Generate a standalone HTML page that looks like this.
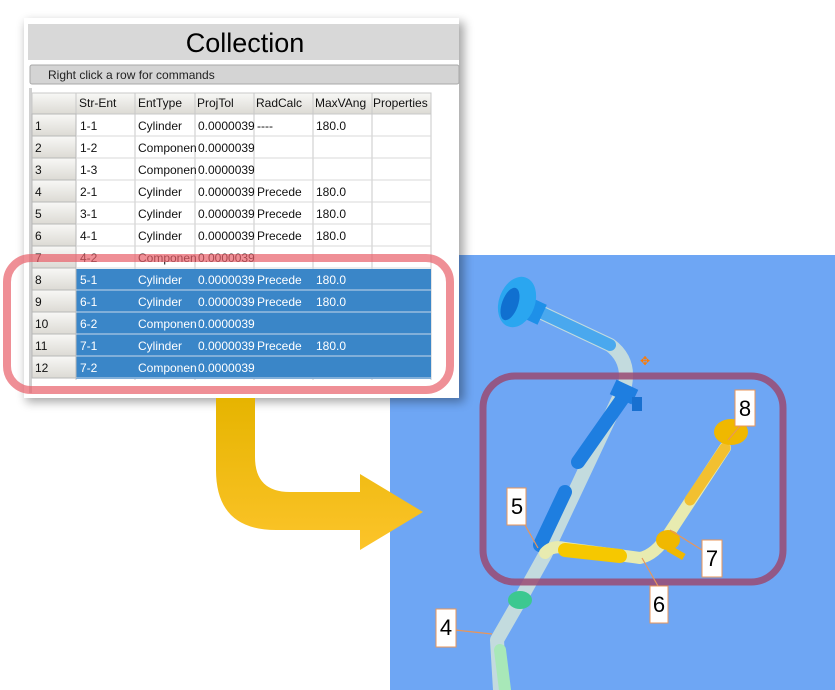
<!DOCTYPE html>
<html><head><meta charset="utf-8"><style>
html,body{margin:0;padding:0;background:#fff;width:835px;height:690px;overflow:hidden}
svg{display:block}
text{font-family:"Liberation Sans",sans-serif}
</style></head><body>
<svg width="835" height="690" viewBox="0 0 835 690" xmlns="http://www.w3.org/2000/svg">
<defs>
<filter id="sh" x="-10%" y="-10%" width="120%" height="120%"><feGaussianBlur stdDeviation="5"/></filter>
<linearGradient id="ag" x1="0" y1="0" x2="0" y2="1"><stop offset="0" stop-color="#e6b400"/><stop offset="1" stop-color="#fcc42a"/></linearGradient>
<linearGradient id="hd" x1="0" y1="0" x2="0" y2="1"><stop offset="0" stop-color="#f8f8f6"/><stop offset="1" stop-color="#dcdad4"/></linearGradient>
</defs>
<rect x="390" y="255" width="445" height="435" fill="#6ea6f4"/>
<rect x="26" y="22" width="438" height="380" fill="#000" opacity="0.35" filter="url(#sh)"/>
<rect x="24" y="18" width="435" height="380" fill="#fff"/>
<rect x="28" y="24" width="431" height="36" fill="#d8d8d8"/>
<text x="245" y="52" font-size="27" text-anchor="middle" fill="#000">Collection</text>
<rect x="30" y="65" width="429" height="19" rx="2" fill="#d4d4d4" stroke="#a8a8a8"/>
<text x="48" y="79" font-size="12" fill="#222">Right click a row for commands</text>
<rect x="29" y="88" width="3" height="305" fill="#d0d0d0"/>
<g font-size="12" fill="#111">
<rect x="32" y="93" width="399" height="21" fill="url(#hd)" stroke="#c8c8c8"/>
<g stroke="#c8c8c8"><line x1="76" y1="93" x2="76" y2="380"/><line x1="135" y1="93" x2="135" y2="380"/><line x1="195" y1="93" x2="195" y2="380"/><line x1="254" y1="93" x2="254" y2="380"/><line x1="313" y1="93" x2="313" y2="380"/><line x1="372" y1="93" x2="372" y2="380"/><line x1="431" y1="93" x2="431" y2="380"/></g>
<text x="79" y="107">Str-Ent</text><text x="138" y="107">EntType</text><text x="197" y="107">ProjTol</text><text x="256" y="107">RadCalc</text><text x="315" y="107">MaxVAng</text><text x="373" y="107">Properties</text>
</g>
<rect x="76" y="269" width="355" height="110" fill="#3a86c8"/>
<g font-size="12">
<g fill="url(#hd)" stroke="#b8b8b8">
<rect x="32" y="114" width="44" height="22"/><rect x="32" y="136" width="44" height="22"/><rect x="32" y="158" width="44" height="22"/><rect x="32" y="180" width="44" height="22"/><rect x="32" y="202" width="44" height="22"/><rect x="32" y="224" width="44" height="22"/><rect x="32" y="246" width="44" height="22"/><rect x="32" y="268" width="44" height="22"/><rect x="32" y="290" width="44" height="22"/><rect x="32" y="312" width="44" height="22"/><rect x="32" y="334" width="44" height="22"/><rect x="32" y="356" width="44" height="22"/>
</g>
<g stroke="#d8d8d8"><line x1="76" y1="136" x2="431" y2="136"/><line x1="76" y1="158" x2="431" y2="158"/><line x1="76" y1="180" x2="431" y2="180"/><line x1="76" y1="202" x2="431" y2="202"/><line x1="76" y1="224" x2="431" y2="224"/><line x1="76" y1="246" x2="431" y2="246"/><line x1="76" y1="268" x2="431" y2="268"/></g>
<g stroke="#c8d8ea"><line x1="76" y1="290" x2="431" y2="290"/><line x1="76" y1="312" x2="431" y2="312"/><line x1="76" y1="334" x2="431" y2="334"/><line x1="76" y1="356" x2="431" y2="356"/><line x1="76" y1="378" x2="431" y2="378"/></g>
<g fill="#111">
<text x="35" y="130">1</text><text x="80" y="130">1-1</text><text x="138" y="130">Cylinder</text><text x="198" y="130">0.0000039</text><text x="257" y="130">----</text><text x="316" y="130">180.0</text>
<text x="35" y="152">2</text><text x="80" y="152">1-2</text><text x="138" y="152">Componen</text><text x="198" y="152">0.0000039</text>
<text x="35" y="174">3</text><text x="80" y="174">1-3</text><text x="138" y="174">Componen</text><text x="198" y="174">0.0000039</text>
<text x="35" y="196">4</text><text x="80" y="196">2-1</text><text x="138" y="196">Cylinder</text><text x="198" y="196">0.0000039</text><text x="257" y="196">Precede</text><text x="316" y="196">180.0</text>
<text x="35" y="218">5</text><text x="80" y="218">3-1</text><text x="138" y="218">Cylinder</text><text x="198" y="218">0.0000039</text><text x="257" y="218">Precede</text><text x="316" y="218">180.0</text>
<text x="35" y="240">6</text><text x="80" y="240">4-1</text><text x="138" y="240">Cylinder</text><text x="198" y="240">0.0000039</text><text x="257" y="240">Precede</text><text x="316" y="240">180.0</text>
<text x="35" y="262">7</text><text x="80" y="262">4-2</text><text x="138" y="262">Componen</text><text x="198" y="262">0.0000039</text>
<text x="35" y="284">8</text><text x="35" y="306">9</text><text x="35" y="328">10</text><text x="35" y="350">11</text><text x="35" y="372">12</text>
</g>
<g fill="#fff">
<text x="80" y="284">5-1</text><text x="138" y="284">Cylinder</text><text x="198" y="284">0.0000039</text><text x="257" y="284">Precede</text><text x="316" y="284">180.0</text>
<text x="80" y="306">6-1</text><text x="138" y="306">Cylinder</text><text x="198" y="306">0.0000039</text><text x="257" y="306">Precede</text><text x="316" y="306">180.0</text>
<text x="80" y="328">6-2</text><text x="138" y="328">Componen</text><text x="198" y="328">0.0000039</text>
<text x="80" y="350">7-1</text><text x="138" y="350">Cylinder</text><text x="198" y="350">0.0000039</text><text x="257" y="350">Precede</text><text x="316" y="350">180.0</text>
<text x="80" y="372">7-2</text><text x="138" y="372">Componen</text><text x="198" y="372">0.0000039</text>
</g>
</g>
<rect x="7" y="258" width="443" height="132" rx="24" fill="none" stroke="#e8606a" stroke-width="8" opacity="0.7"/>
<path d="M216 398 V470 Q216 530 276 530 H360 V550 L423 512 L360 474 V492 H290 Q255 492 255 457 V398 Z" fill="url(#ag)"/>
<g fill="none" stroke-linecap="round" stroke-linejoin="round">
<path d="M540 312 L610 345 Q630 360 625 385 L545 555 L520 600 L497 640 L500 690" stroke="#d8e8d8" stroke-width="14" opacity="0.8"/>
<path d="M540 312 L610 345" stroke="#4aa8ee" stroke-width="12"/>
<path d="M625 395 L578 462" stroke="#1e7ee0" stroke-width="14"/>
<path d="M565 492 L540 545" stroke="#1e7ee0" stroke-width="14"/>
<path d="M545 553 Q552 545 565 548 L640 558 Q655 555 668 535 L725 448" stroke="#e8ebb0" stroke-width="12"/>
<path d="M565 550 L620 556" stroke="#f6c800" stroke-width="14"/>
<path d="M690 500 L725 448" stroke="#f2c030" stroke-width="11"/>
<path d="M500 650 L505 690" stroke="#a8e8b8" stroke-width="12"/>
</g>
<rect x="525" y="300" width="18" height="22" fill="#1e90e8" transform="rotate(25 534 311)"/>
<ellipse cx="517" cy="302" rx="18" ry="26" fill="#2aa6f0" transform="rotate(20 517 302)"/>
<ellipse cx="510" cy="304" rx="8" ry="17" fill="#1070d0" transform="rotate(20 510 304)"/>
<rect x="612" y="384" width="24" height="16" fill="#1e7ee0" transform="rotate(25 624 392)"/>
<rect x="632" y="397" width="10" height="14" fill="#1870d0"/>
<ellipse cx="520" cy="600" rx="12" ry="9" fill="#3cc890"/>
<ellipse cx="731" cy="432" rx="17" ry="13" fill="#f0b800"/>
<ellipse cx="668" cy="540" rx="12" ry="10" fill="#f0b800"/>
<rect x="670" y="545" width="18" height="7" fill="#f0b800" transform="rotate(30 670 545)"/>
<text x="640" y="365" font-size="12" fill="#ff7a00">✥</text>
<rect x="483" y="376" width="300" height="206" rx="32" fill="none" stroke="#9a4a72" stroke-width="7" opacity="0.85"/>
<g stroke="#e8965a" stroke-width="1.2" fill="none">
<line x1="525" y1="525" x2="538" y2="548"/><line x1="455" y1="630" x2="492" y2="634"/><line x1="658" y1="586" x2="642" y2="558"/><line x1="702" y1="550" x2="670" y2="530"/><line x1="740" y1="426" x2="728" y2="440"/>
</g>
<g fill="#fff" stroke="#e8965a" stroke-width="1">
<rect x="507" y="488" width="19" height="37"/><rect x="436" y="609" width="20" height="38"/><rect x="650" y="586" width="18" height="37"/><rect x="702" y="540" width="20" height="37"/><rect x="735" y="390" width="20" height="36"/>
</g>
<g font-size="22" fill="#000" text-anchor="middle">
<text x="517" y="514">5</text><text x="446" y="635">4</text><text x="659" y="612">6</text><text x="712" y="566">7</text><text x="745" y="416">8</text>
</g>
</svg>
</body></html>
